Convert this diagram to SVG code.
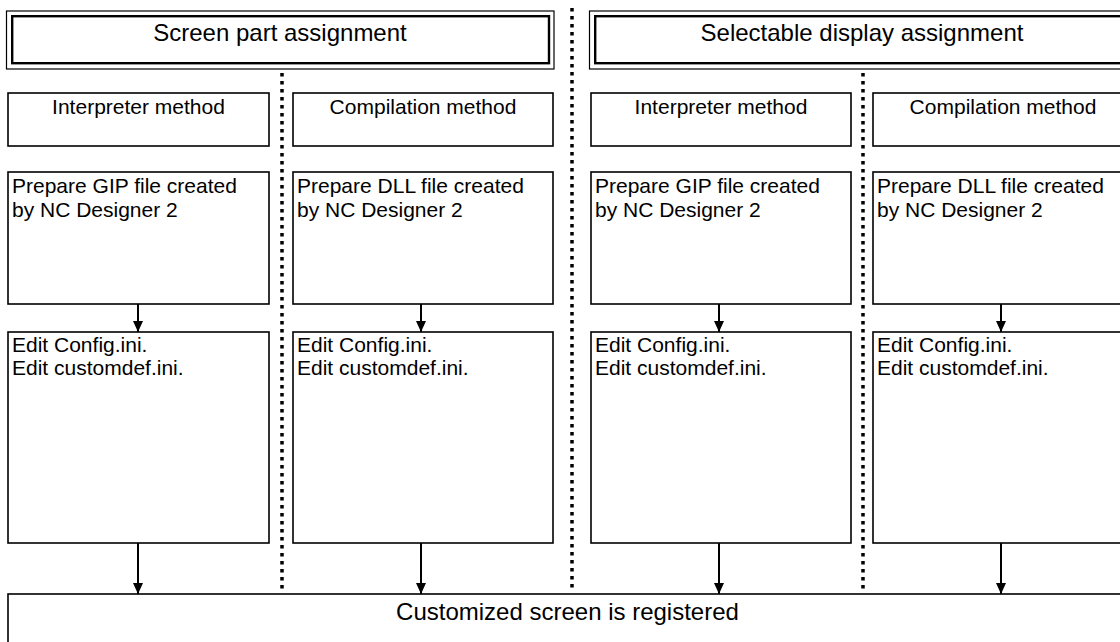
<svg xmlns="http://www.w3.org/2000/svg" width="1120" height="642" viewBox="0 0 1120 642">
  <style>
    .box { fill: #fff; stroke: #000; stroke-width: 1.6; }
    .outer { fill: none; stroke: #000; stroke-width: 1.2; }
    .inner { fill: none; stroke: #000; stroke-width: 2.4; }
    .t { font-family: "Liberation Sans", Arial, sans-serif; fill: #000; }
    .title { font-size: 24px; text-anchor: middle; }
    .head { font-size: 21px; text-anchor: middle; }
    .body { font-size: 21px; }
    .dot { stroke: #000; stroke-width: 3.5; stroke-dasharray: 3.5 4.5; fill: none; }
    .arr { stroke: #000; stroke-width: 2; fill: none; marker-end: url(#ah); }
  </style>
  <defs>
    <marker id="ah" markerUnits="userSpaceOnUse" markerWidth="12" markerHeight="12" viewBox="0 0 12 12" refX="11" refY="6" orient="auto">
      <path d="M0,1 L11,6 L0,11 Z" fill="#000"/>
    </marker>
  </defs>
  <rect width="1120" height="642" fill="#fff"/>

  <g id="separators">
    <line class="dot" x1="572" y1="8" x2="572" y2="590"/>
    <line class="dot" x1="282" y1="73" x2="282" y2="590"/>
    <line class="dot" x1="863" y1="73" x2="863" y2="590"/>
  </g>

  <g id="title-screen-part">
    <rect class="outer" x="6.5" y="11" width="547.5" height="58"/>
    <rect class="inner" x="12.2" y="16.2" width="536.8" height="47"/>
    <text class="t title" x="280" y="41">Screen part assignment</text>
  </g>
  <g id="title-selectable">
    <rect class="outer" x="589.5" y="11" width="547.5" height="58"/>
    <rect class="inner" x="595.2" y="16.2" width="536.8" height="47"/>
    <text class="t title" x="862" y="41">Selectable display assignment</text>
  </g>

  <g id="m1"><rect class="box" x="8" y="93" width="261" height="53"/><text class="t head" x="138.5" y="114">Interpreter method</text></g>
  <g id="m2"><rect class="box" x="293" y="93" width="260" height="53"/><text class="t head" x="423" y="114">Compilation method</text></g>
  <g id="m3"><rect class="box" x="591" y="93" width="260" height="53"/><text class="t head" x="721" y="114">Interpreter method</text></g>
  <g id="m4"><rect class="box" x="873" y="93" width="260" height="53"/><text class="t head" x="1003" y="114">Compilation method</text></g>

  <g id="p1"><rect class="box" x="8" y="172" width="261" height="132"/><text class="t body" x="12" y="193">Prepare GIP file created</text><text class="t body" x="12" y="217">by NC Designer 2</text></g>
  <g id="p2"><rect class="box" x="293" y="172" width="260" height="132"/><text class="t body" x="297" y="193">Prepare DLL file created</text><text class="t body" x="297" y="217">by NC Designer 2</text></g>
  <g id="p3"><rect class="box" x="591" y="172" width="260" height="132"/><text class="t body" x="595" y="193">Prepare GIP file created</text><text class="t body" x="595" y="217">by NC Designer 2</text></g>
  <g id="p4"><rect class="box" x="873" y="172" width="260" height="132"/><text class="t body" x="877" y="193">Prepare DLL file created</text><text class="t body" x="877" y="217">by NC Designer 2</text></g>

  <g id="e1"><rect class="box" x="8" y="332" width="261" height="211"/><text class="t body" x="12" y="352">Edit Config.ini.</text><text class="t body" x="12" y="375">Edit customdef.ini.</text></g>
  <g id="e2"><rect class="box" x="293" y="332" width="260" height="211"/><text class="t body" x="297" y="352">Edit Config.ini.</text><text class="t body" x="297" y="375">Edit customdef.ini.</text></g>
  <g id="e3"><rect class="box" x="591" y="332" width="260" height="211"/><text class="t body" x="595" y="352">Edit Config.ini.</text><text class="t body" x="595" y="375">Edit customdef.ini.</text></g>
  <g id="e4"><rect class="box" x="873" y="332" width="260" height="211"/><text class="t body" x="877" y="352">Edit Config.ini.</text><text class="t body" x="877" y="375">Edit customdef.ini.</text></g>

  <g id="registered"><rect class="box" x="8" y="594" width="1130" height="60"/><text class="t title" x="567.5" y="620">Customized screen is registered</text></g>

  <g id="connectors">
    <line class="arr" x1="138" y1="304" x2="138" y2="332"/>
    <line class="arr" x1="421" y1="304" x2="421" y2="332"/>
    <line class="arr" x1="719" y1="304" x2="719" y2="332"/>
    <line class="arr" x1="1001" y1="304" x2="1001" y2="332"/>
    <line class="arr" x1="138" y1="543" x2="138" y2="594"/>
    <line class="arr" x1="421" y1="543" x2="421" y2="594"/>
    <line class="arr" x1="719" y1="543" x2="719" y2="594"/>
    <line class="arr" x1="1001" y1="543" x2="1001" y2="594"/>
  </g>
</svg>
